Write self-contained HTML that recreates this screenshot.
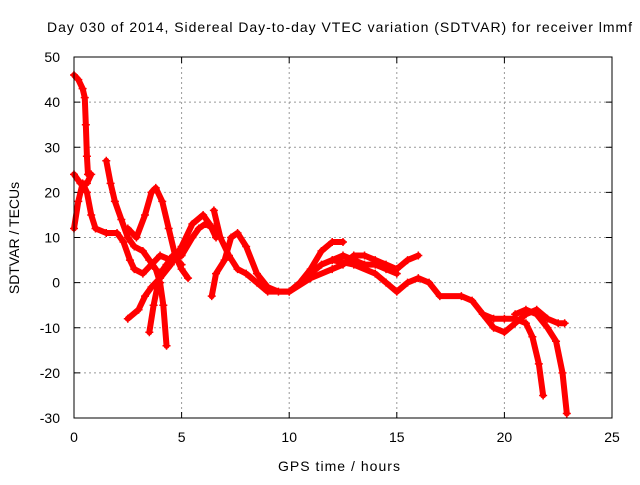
<!DOCTYPE html>
<html><head><meta charset="utf-8"><style>
body{margin:0;background:#fff;}
svg text{font-family:"Liberation Sans",sans-serif;font-size:14px;fill:#000;}
</style></head><body>
<svg width="640" height="480" xmlns="http://www.w3.org/2000/svg" id="chart">
<text x="47" y="32" textLength="585" lengthAdjust="spacing">Day 030 of 2014, Sidereal Day-to-day VTEC variation (SDTVAR) for receiver lmmf</text>
<text x="339" y="471" text-anchor="middle" textLength="122">GPS time / hours</text>
<text transform="translate(19,238) rotate(-90)" text-anchor="middle">SDTVAR / TECUs</text>
<g id="grid"></g><g id="ticks"></g><g id="series"></g>
<rect x="74" y="57" width="538" height="361" fill="none" stroke="#000" stroke-width="1"/>
</svg>
<script>
const xTicks=[0,5,10,15,20,25];
const yTicks=[-30,-20,-10,0,10,20,30,40,50];
const tracks=[
[[0,46],[0.2,45],[0.4,43],[0.5,41],[0.55,35],[0.6,28],[0.65,24]],
[[0,12],[0.2,18],[0.4,22],[0.6,20],[0.8,15],[1.0,12],[1.5,11],[2.0,11],[2.3,9],[2.6,5],[2.8,3],[3.2,2],[3.6,4],[4.0,6],[4.5,5],[5,6],[5.5,10],[5.8,12],[6.1,13],[6.5,12]],
[[0,24],[0.3,22],[0.6,22],[0.8,24]],
[[1.5,27],[1.7,22],[1.9,18],[2.2,14],[2.5,10],[2.8,8],[3.2,7],[3.5,5],[3.8,3],[4.0,0],[4.15,-5],[4.3,-14]],
[[2.5,-8],[3.0,-6],[3.3,-3],[3.6,-1],[4.0,1],[4.5,4],[5.0,8],[5.5,13],[6.0,15],[6.3,13],[6.6,10]],
[[2.5,12],[2.9,10],[3.3,15],[3.6,20],[3.8,21],[4.1,18],[4.4,12],[4.7,6],[5.0,3],[5.3,1]],
[[3.5,-11],[3.7,-5],[4.0,2],[4.3,4],[4.6,6],[5.0,4]],
[[6.4,-3],[6.6,2],[7,5],[7.3,10],[7.6,11],[8,8],[8.5,2],[9,-1],[9.5,-2],[10,-2],[10.5,0],[11,3],[11.5,7],[12,9],[12.5,9]],
[[6.5,16],[6.8,10],[7.2,6],[7.6,3],[8,2],[8.5,0],[9,-2],[10,-2],[11,1],[12,3],[12.5,4],[13,6],[13.5,6],[14,5],[14.5,4],[15,3],[15.5,5],[16,6]],
[[11,2],[11.5,4],[12,5],[12.5,6],[13,5],[13.5,4],[14,4],[14.5,3],[15,2]],
[[12,5],[13,4],[14,2],[14.5,0],[15,-2],[15.5,0],[16,1],[16.5,0],[17,-3],[18,-3],[18.5,-4],[19,-7],[19.5,-10],[20,-11],[20.5,-9],[21,-7],[21.5,-6],[22,-8],[22.5,-9],[22.8,-9]],
[[19,-7],[19.5,-8],[20,-8],[20.5,-8],[21,-9],[21.3,-12],[21.6,-18],[21.8,-25]],
[[20.5,-7],[21,-6],[21.5,-7],[22,-10],[22.4,-13],[22.7,-20],[22.9,-29]]
];
const NS='http://www.w3.org/2000/svg';
const sx=v=>74+v*538/25, sy=v=>418-(v+30)*361/80;
const g=document.getElementById('grid'),t=document.getElementById('ticks'),s=document.getElementById('series');
function mk(tag,at,p){const e=document.createElementNS(NS,tag);for(const k in at)e.setAttribute(k,at[k]);p.appendChild(e);return e;}
xTicks.forEach(v=>{const x=sx(v);
 if(v>0&&v<25){const l=mk('line',{x1:x,x2:x,y1:57,y2:418,stroke:'#999','stroke-dasharray':'2,3'},g);
 
 }
 const tx=mk('text',{x:x,y:442,'text-anchor':'middle'},t);tx.textContent=v;
 
 
 mk('line',{x1:x,x2:x,y1:418,y2:412,stroke:'#000'},t);mk('line',{x1:x,x2:x,y1:57,y2:63,stroke:'#000'},t);});
yTicks.forEach(v=>{const y=sy(v);
 if(v>-30&&v<50){const l=mk('line',{x1:74,x2:612,y1:y,y2:y,stroke:'#999','stroke-dasharray':'2,3'},g);
 
 }
 const tx=mk('text',{x:60,y:y+5,'text-anchor':'end'},t);tx.textContent=v;
 
 
 mk('line',{x1:74,x2:80,y1:y,y2:y,stroke:'#000'},t);mk('line',{x1:612,x2:606,y1:y,y2:y,stroke:'#000'},t);});
tracks.forEach(tr=>{
 const pl=mk('polyline',{points:tr.map(p=>sx(p[0])+','+sy(p[1])).join(' '),fill:'none',stroke:'#f00','stroke-width':6,'stroke-linejoin':'round','stroke-linecap':'round'},s);
 
 
 tr.forEach(p=>{const x=sx(p[0]),y=sy(p[1]);
  const m=mk('path',{d:`M${x-4},${y}h8M${x},${y-4}v8`,stroke:'#f00','stroke-width':1.5},s);
  
  });
});
</script>
</body></html>
